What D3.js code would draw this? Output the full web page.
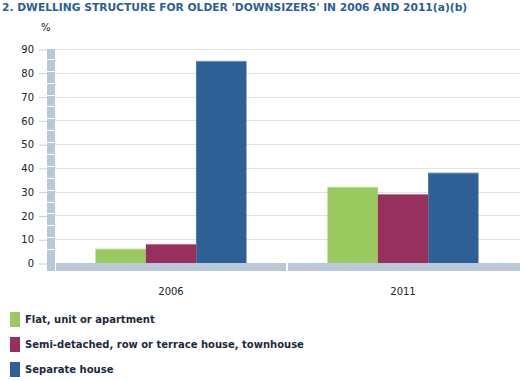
<!DOCTYPE html>
<html>
<head>
<meta charset="utf-8">
<script src="https://cdn.jsdelivr.net/npm/d3@7"></script>
<style>
  body { margin: 0; background: #fff; }
  text { font-family: "DejaVu Sans", Verdana, sans-serif; }
</style>
</head>
<body>
<svg id="chart" width="521" height="381"></svg>
<script>
// data
const years = ["2006", "2011"];
const seriesNames = [
  "Flat, unit or apartment",
  "Semi-detached, row or terrace house, townhouse",
  "Separate house"
];
const flatValues = [6, 32];
const semiValues = [8, 29];
const houseValues = [85, 38];
const yTicks = [0, 10, 20, 30, 40, 50, 60, 70, 80, 90];
const seriesColors = ["#99c95f", "#97305c", "#2e6096"];

const series = [flatValues, semiValues, houseValues];

const svg = d3.select("#chart");

const y = d3.scaleLinear()
    .domain([0, 90])
    .range([263, 49]);

const x = d3.scaleBand()
    .domain(years)
    .range([55, 519]);

const xInner = d3.scaleBand()
    .domain(d3.range(seriesNames.length))
    .range([40.5, x.bandwidth() - 40.5]);

// title
svg.append("text")
    .attr("x", 2)
    .attr("y", 10.5)
    .attr("font-size", "10.7px")
    .attr("font-weight", "bold")
    .attr("fill", "#2d5d9a")
    .text("2. DWELLING STRUCTURE FOR OLDER 'DOWNSIZERS' IN 2006 AND 2011(a)(b)");

svg.append("text")
    .attr("x", 41)
    .attr("y", 31)
    .attr("font-size", "10px")
    .attr("fill", "#222")
    .text("%");

// gridlines
svg.append("g")
  .selectAll("line")
  .data(yTicks.filter(d => d > 0))
  .join("line")
    .attr("x1", 55)
    .attr("x2", 520)
    .attr("y1", d => Math.round(y(d)) + 0.5)
    .attr("y2", d => Math.round(y(d)) + 0.5)
    .attr("stroke", "#e3e3e3");

// left wall, split every 5 units
svg.append("rect")
    .attr("x", 47)
    .attr("y", 49)
    .attr("width", 8)
    .attr("height", 222)
    .attr("fill", "#b9c8d8");

svg.append("g")
  .selectAll("line")
  .data(d3.range(5, 90, 5))
  .join("line")
    .attr("x1", 47)
    .attr("x2", 55)
    .attr("y1", d => Math.round(y(d)) - 1.5)
    .attr("y2", d => Math.round(y(d)) - 1.5)
    .attr("stroke", "#fff");

// floor
x.domain().forEach((d, i) => {
  svg.append("rect")
      .attr("x", i === 0 ? 56 : x(d) + 1)
      .attr("y", 263)
      .attr("width", i === 0 ? x(d) + x.bandwidth() - 56 - 1 : x.bandwidth())
      .attr("height", 8)
      .attr("fill", "#b9c8d8");
});

// y axis
const yAxis = d3.axisLeft(y)
    .tickValues(yTicks)
    .tickSize(8)
    .tickPadding(5);

svg.append("g")
    .attr("transform", "translate(47,0.5)")
    .call(yAxis)
    .call(g => g.select(".domain").remove())
    .call(g => g.selectAll(".tick line").attr("stroke", "#c8d2dc"))
    .call(g => g.selectAll("text")
        .attr("font-family", "DejaVu Sans, sans-serif")
        .attr("font-size", "10px")
        .attr("fill", "#222"));

// bars
const groups = svg.append("g")
  .selectAll("g")
  .data(years)
  .join("g")
    .attr("transform", d => `translate(${x(d)},0)`);

groups.selectAll("rect")
  .data((d, i) => series.map((s, k) => ({k, value: s[i]})))
  .join("rect")
    .attr("x", d => xInner(d.k))
    .attr("y", d => y(d.value))
    .attr("width", xInner.bandwidth())
    .attr("height", d => y(0) - y(d.value))
    .attr("fill", d => seriesColors[d.k]);

// subtle lighter edge on top of bars
groups.selectAll(".edge")
  .data((d, i) => series.map((s, k) => ({k, value: s[i]})))
  .join("line")
    .attr("class", "edge")
    .attr("x1", d => xInner(d.k))
    .attr("x2", d => xInner(d.k) + xInner.bandwidth())
    .attr("y1", d => y(d.value) + 0.5)
    .attr("y2", d => y(d.value) + 0.5)
    .attr("stroke", "#fff")
    .attr("stroke-opacity", 0.35);

// x labels
svg.append("g")
  .selectAll("text")
  .data(years)
  .join("text")
    .attr("x", d => x(d) + x.bandwidth() / 2)
    .attr("y", 295)
    .attr("text-anchor", "middle")
    .attr("font-size", "10px")
    .attr("fill", "#222")
    .text(d => d);

// legend
const legend = svg.append("g")
  .selectAll("g")
  .data(seriesNames)
  .join("g")
    .attr("transform", (d, i) => `translate(10,${312 + i * 25})`);

legend.append("rect")
    .attr("width", 10)
    .attr("height", 15)
    .attr("fill", (d, i) => seriesColors[i]);

legend.append("text")
    .attr("x", 15)
    .attr("y", 11)
    .attr("font-size", "10px")
    .attr("font-weight", "bold")
    .attr("fill", "#1c2a3a")
    .text(d => d);
</script>
</body>
</html>
